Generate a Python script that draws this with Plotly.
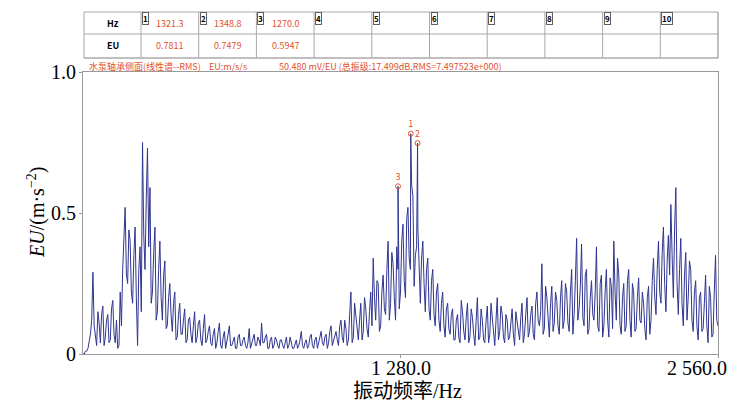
import numpy as np
import plotly.graph_objects as go

# ---- data ----
freq_step = 10.0
# amplitudes at 0, 10, 20, ... 2560 Hz
amp = [
    0.00, 0.01, 0.02, 0.07, 0.29, 0.05, 0.15, 0.04, 0.17, 0.06,
    0.14, 0.05, 0.19, 0.04, 0.02, 0.22, 0.30, 0.52, 0.25, 0.40,
    0.18, 0.45, 0.03, 0.38, 0.75, 0.30, 0.73, 0.59, 0.22, 0.45,
    0.15, 0.40, 0.12, 0.33, 0.10, 0.25, 0.08, 0.22, 0.06, 0.18,
    0.07, 0.16, 0.05, 0.13, 0.04, 0.15, 0.06, 0.12, 0.03, 0.14,
    0.05, 0.10, 0.03, 0.09, 0.04, 0.11, 0.02, 0.08, 0.04, 0.10,
    0.03, 0.06, 0.02, 0.07, 0.03, 0.06, 0.02, 0.09, 0.04, 0.07,
    0.03, 0.05, 0.11, 0.04, 0.07, 0.02, 0.06, 0.03, 0.05, 0.02,
    0.05, 0.02, 0.06, 0.03, 0.04, 0.02, 0.05, 0.03, 0.08, 0.02,
    0.05, 0.03, 0.07, 0.02, 0.06, 0.04, 0.08, 0.03, 0.07, 0.04,
    0.10, 0.05, 0.08, 0.03, 0.12, 0.04, 0.09, 0.05, 0.22, 0.06,
    0.14, 0.05, 0.18, 0.08, 0.16, 0.06, 0.22, 0.34, 0.12, 0.25,
    0.10, 0.28, 0.14, 0.40, 0.18, 0.32, 0.12, 0.30, 0.22, 0.46,
    0.20, 0.52, 0.30, 0.56, 0.35, 0.45, 0.18, 0.40, 0.15, 0.34,
    0.12, 0.30, 0.10, 0.25, 0.08, 0.22, 0.06, 0.18, 0.07, 0.16,
    0.05, 0.14, 0.04, 0.15, 0.05, 0.18, 0.06, 0.13, 0.03, 0.20,
    0.06, 0.12, 0.04, 0.17, 0.07, 0.13, 0.03, 0.20, 0.08, 0.14,
    0.04, 0.12, 0.06, 0.16, 0.03, 0.11, 0.05, 0.18, 0.07, 0.20,
    0.08, 0.17, 0.05, 0.22, 0.10, 0.32, 0.09, 0.20, 0.06, 0.24,
    0.11, 0.19, 0.07, 0.26, 0.12, 0.22, 0.08, 0.30, 0.14, 0.41,
    0.16, 0.39, 0.10, 0.30, 0.09, 0.26, 0.12, 0.38, 0.08, 0.28,
    0.10, 0.30, 0.06, 0.24, 0.40, 0.12, 0.28, 0.07, 0.25, 0.10,
    0.30, 0.06, 0.22, 0.09, 0.27, 0.11, 0.18, 0.05, 0.24, 0.12,
    0.34, 0.14, 0.40, 0.18, 0.45, 0.15, 0.42, 0.53, 0.20, 0.59,
    0.14, 0.41, 0.10, 0.36, 0.20, 0.30, 0.08, 0.26, 0.05, 0.22,
    0.09, 0.28, 0.04, 0.20, 0.07, 0.35, 0.10,
]
# amplitudes at 5, 15, 25, ... 2555 Hz
amp_mid = [
    0.00, 0.01, 0.04, 0.12, 0.10, 0.03, 0.11, 0.14, 0.03, 0.12,
    0.04, 0.16, 0.07, 0.12, 0.03, 0.10, 0.42, 0.28, 0.44, 0.22,
    0.35, 0.20, 0.30, 0.15, 0.42, 0.55, 0.38, 0.18, 0.36, 0.12,
    0.30, 0.20, 0.28, 0.09, 0.20, 0.14, 0.18, 0.05, 0.14, 0.07,
    0.12, 0.04, 0.12, 0.07, 0.10, 0.04, 0.11, 0.05, 0.09, 0.04,
    0.08, 0.04, 0.07, 0.02, 0.08, 0.03, 0.06, 0.02, 0.07, 0.03,
    0.05, 0.02, 0.06, 0.03, 0.05, 0.03, 0.04, 0.02, 0.06, 0.03,
    0.06, 0.03, 0.04, 0.06, 0.02, 0.05, 0.02, 0.06, 0.03, 0.05,
    0.03, 0.04, 0.02, 0.06, 0.02, 0.04, 0.02, 0.05, 0.03, 0.04,
    0.02, 0.06, 0.03, 0.05, 0.02, 0.07, 0.04, 0.06, 0.02, 0.08,
    0.03, 0.07, 0.05, 0.10, 0.06, 0.12, 0.03, 0.14, 0.04, 0.18,
    0.08, 0.12, 0.05, 0.20, 0.09, 0.15, 0.10, 0.20, 0.26, 0.08,
    0.22, 0.16, 0.30, 0.12, 0.36, 0.20, 0.38, 0.16, 0.40, 0.26,
    0.48, 0.34, 0.60, 0.24, 0.38, 0.30, 0.34, 0.25, 0.30, 0.16,
    0.26, 0.14, 0.22, 0.12, 0.18, 0.10, 0.16, 0.09, 0.14, 0.05,
    0.12, 0.06, 0.19, 0.08, 0.13, 0.04, 0.16, 0.07, 0.12, 0.05,
    0.16, 0.05, 0.12, 0.04, 0.18, 0.08, 0.12, 0.05, 0.17, 0.06,
    0.14, 0.05, 0.11, 0.07, 0.15, 0.08, 0.13, 0.04, 0.14, 0.06,
    0.14, 0.07, 0.18, 0.12, 0.15, 0.07, 0.24, 0.13, 0.18, 0.08,
    0.22, 0.10, 0.20, 0.09, 0.25, 0.11, 0.22, 0.07, 0.26, 0.12,
    0.24, 0.13, 0.28, 0.07, 0.20, 0.14, 0.22, 0.10, 0.25, 0.06,
    0.22, 0.12, 0.27, 0.09, 0.22, 0.34, 0.10, 0.20, 0.08, 0.26,
    0.12, 0.25, 0.08, 0.20, 0.12, 0.22, 0.09, 0.20, 0.07, 0.26,
    0.20, 0.30, 0.22, 0.36, 0.25, 0.33, 0.28, 0.35, 0.44, 0.25,
    0.30, 0.18, 0.28, 0.12, 0.33, 0.12, 0.22, 0.10, 0.20, 0.08,
    0.18, 0.10, 0.24, 0.06, 0.22, 0.12,
]
peak_freq = [1321.3, 1348.8, 1270.0]
peak_amp = [0.7811, 0.7479, 0.5947]
peak_labels = ["1", "2", "3"]

table_cols = ["1", "2", "3", "4", "5", "6", "7", "8", "9", "10"]
table_hz = ["1321.3", "1348.8", "1270.0", "", "", "", "", "", "", ""]
table_eu = ["0.7811", "0.7479", "0.5947", "", "", "", "", "", "", ""]

x_ticks = [1280, 2560]
x_tick_text = ["1 280.0", "2 560.0"]
y_ticks = [0, 0.5, 1.0]
y_tick_text = ["0", "0.5", "1.0"]

# ---- build series ----
xs = [i * freq_step for i in range(len(amp))]
xs += [i * freq_step + freq_step / 2 for i in range(len(amp_mid))]
xs += peak_freq
ys = list(amp) + list(amp_mid) + list(peak_amp)
order = np.argsort(xs, kind="stable")
xs = [xs[i] for i in order]
ys = [ys[i] for i in order]

LINE = "#2f3590"
RED = "#e2502c"
GRAY = "#9a9a9a"
SERIF = "Liberation Serif, Times New Roman, Noto Sans CJK SC, serif"
SMALL = "Noto Sans CJK SC, DejaVu Sans, sans-serif"

fig = go.Figure()
fig.add_trace(go.Scatter(x=xs, y=ys, mode="lines",
                         line=dict(color=LINE, width=1), hoverinfo="skip",
                         showlegend=False))
fig.add_trace(go.Scatter(x=peak_freq, y=peak_amp, mode="markers+text",
                         text=peak_labels, textposition="top center",
                         textfont=dict(size=9, color=RED, family=SMALL),
                         marker=dict(symbol="circle-open", size=5, color=RED,
                                     line=dict(width=1, color=RED)),
                         showlegend=False, hoverinfo="skip",
                         cliponaxis=False))

L, R, T, B = 83, 18, 72, 49
W, H = 736, 403
PW, PH = W - L - R, H - T - B

def PX(x):
    return (x - L) / PW

def PY(y):
    return (H - B - y) / PH

fig.update_layout(
    width=W, height=H,
    margin=dict(l=L, r=R, t=T, b=B, pad=0),
    paper_bgcolor="white", plot_bgcolor="white",
    xaxis=dict(range=[0, 2560], showgrid=False, zeroline=False,
               tickvals=x_ticks, ticks="outside", ticklen=3,
               tickcolor=GRAY, showticklabels=False,
               showline=True, linecolor=GRAY, linewidth=1, mirror=True),
    yaxis=dict(range=[0, 1.0], showgrid=False, zeroline=False,
               tickvals=y_ticks, ticks="outside", ticklen=3,
               tickcolor=GRAY, showticklabels=False,
               showline=True, linecolor=GRAY, linewidth=1, mirror=True),
)

ann = []
for v, t in zip(y_ticks, y_tick_text):
    ann.append(dict(x=0, y=v, xref="paper", yref="y", text=t, showarrow=False,
                    xanchor="right", yanchor="middle", xshift=-5,
                    font=dict(family=SERIF, size=20, color="black")))
for v, t in zip(x_ticks, x_tick_text):
    xs_ = -21 if v == 2560 else 0
    ann.append(dict(x=v, y=0, xref="x", yref="paper", text=t, showarrow=False,
                    xanchor="center", yanchor="top", xshift=xs_, yshift=-1,
                    font=dict(family=SERIF, size=20, color="black")))

def pann(x, y, text, **kw):
    d = dict(x=PX(x), y=PY(y), xref="paper", yref="paper", text=text,
             showarrow=False, xanchor="center", yanchor="middle")
    d.update(kw)
    ann.append(d)

# axis titles
pann(407, 391, "振动频率/Hz",
     font=dict(family=SERIF, size=20, color="black"))
pann(36, 213, "<i>EU</i>/(m·s<sup>−2</sup>)", textangle=-90,
     font=dict(family=SERIF, size=20, color="black"))

# subtitle
sub_font = dict(family=SMALL, size=9, color=RED)
pann(87, 66, "水泵轴承侧面(线性谱--RMS)", xanchor="left", font=sub_font)
pann(207, 66, "EU:m/s/s", xanchor="left", font=sub_font)
pann(277, 66, "50.480 mV/EU (总振级:17.499dB,RMS=7.497523e+000)",
     xanchor="left", font=sub_font)

# table
tx0, tx1 = 84, 718
ty0, ty1, ty2 = 12, 34, 58
col0 = 141
cw = (tx1 - col0) / 10.0
shapes = []

def px_line(x0, y0, x1, y1, color="#a8a8a8", width=1):
    shapes.append(dict(type="line", xref="paper", yref="paper",
                       x0=PX(x0), x1=PX(x1), y0=PY(y0), y1=PY(y1),
                       line=dict(color=color, width=width)))

px_line(tx0, ty0, tx1, ty0)
px_line(tx0, ty1, tx1, ty1)
px_line(tx0, ty2, tx1, ty2, color="#808080")
px_line(tx0, ty0, tx0, ty2)
px_line(tx1, ty0, tx1, ty2, color="#808080")
for i in range(10):
    xv = col0 + i * cw
    px_line(xv, ty0, xv, ty2)

pann((tx0 + col0) / 2, (ty0 + ty1) / 2 + 1, "<b>Hz</b>",
     font=dict(family=SMALL, size=9, color="black"))
pann((tx0 + col0) / 2, (ty1 + ty2) / 2, "<b>EU</b>",
     font=dict(family=SMALL, size=9, color="black"))
for i in range(10):
    xc = col0 + i * cw + cw / 2
    if table_hz[i]:
        pann(xc, (ty0 + ty1) / 2 + 1, table_hz[i],
             font=dict(family=SMALL, size=9, color=RED))
    if table_eu[i]:
        pann(xc, (ty1 + ty2) / 2, table_eu[i],
             font=dict(family=SMALL, size=9, color=RED))
    pann(col0 + i * cw + 1, ty0 + 0.5, "<b>" + table_cols[i] + "</b>",
         xanchor="left", yanchor="top",
         font=dict(family=SMALL, size=8, color="black"),
         bordercolor="#606060", borderwidth=1, borderpad=0, bgcolor="white")

fig.update_layout(annotations=ann, shapes=shapes)
fig.write_html("out.html",
               config={"displayModeBar": False, "staticPlot": True},
               post_script="document.body.style.margin='0';"
                           "document.body.style.padding='0';"
                           "document.body.style.overflow='hidden';")
